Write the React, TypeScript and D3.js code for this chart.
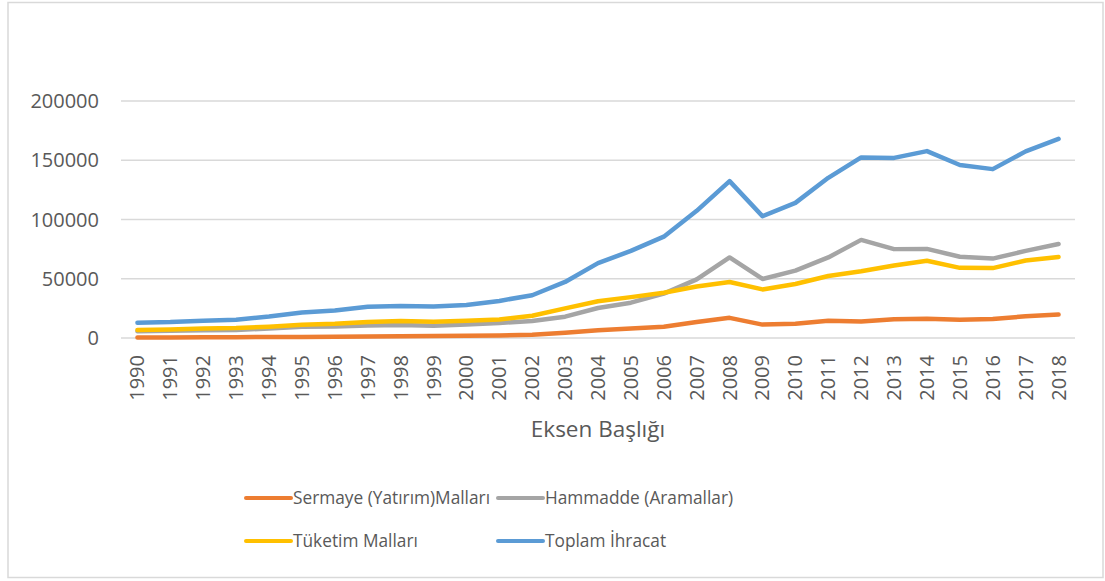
import React, { useEffect, useRef } from 'react';
import * as d3 from 'd3';

const years = d3.range(1990, 2019).map(String);

const sermaye = [400, 500, 600, 700, 800, 900, 1000, 1200, 1400, 1600, 1900, 2200, 2800, 4500, 6500, 8000, 9500, 13500, 17000, 11300, 12000, 14500, 14000, 15800, 16200, 15500, 16000, 18300, 19800];
const hammadde = [5800, 6100, 6500, 6800, 8000, 9500, 9800, 10500, 11000, 10400, 11300, 12700, 14300, 18000, 25300, 29800, 37500, 49500, 68000, 49800, 56800, 68000, 82800, 75000, 75200, 68600, 67000, 73500, 79300];
const tuketim = [6800, 7200, 8000, 8400, 9500, 11200, 12000, 13500, 14300, 13800, 14500, 15700, 18800, 25000, 31000, 34500, 38200, 43500, 47300, 41000, 45600, 52300, 56300, 61200, 65200, 59200, 59000, 65400, 68400];
const toplam = [12900, 13400, 14600, 15400, 18100, 21600, 23200, 26300, 27000, 26600, 27800, 31300, 36100, 47300, 63200, 73500, 85500, 107300, 132400, 102800, 114000, 135200, 152400, 152000, 157700, 146000, 142500, 157500, 168000];

const yTicks = [0, 50000, 100000, 150000, 200000];

const series = [
  { name: 'Sermaye (Yatırım)Malları', values: sermaye, color: '#ed7d31' },
  { name: 'Hammadde (Aramallar)', values: hammadde, color: '#a5a5a5' },
  { name: 'Tüketim Malları', values: tuketim, color: '#ffc000' },
  { name: 'Toplam İhracat', values: toplam, color: '#5b9bd5' },
];

const App = () => {
  const svgRef = useRef<SVGSVGElement>(null);

  useEffect(() => {
    const svg = d3.select(svgRef.current);
    svg.selectAll('*').remove();

    const font = '"Open Sans", sans-serif';
    const textColor = '#595959';

    // chart frame
    svg.append('rect')
      .attr('x', 8).attr('y', 2.5)
      .attr('width', 1095).attr('height', 575)
      .attr('fill', '#fff')
      .attr('stroke', '#d9d9d9')
      .attr('stroke-width', 1.5);

    const left = 121, right = 1075, top = 101, bottom = 338;

    const x = d3.scaleBand().domain(years).range([left, right]);
    const y = d3.scaleLinear().domain([0, 200000]).range([bottom, top]);

    // gridlines
    svg.append('g').selectAll('line')
      .data(yTicks)
      .enter()
      .append('line')
      .attr('x1', left).attr('x2', right)
      .attr('y1', d => y(d)).attr('y2', d => y(d))
      .attr('stroke', '#d9d9d9')
      .attr('stroke-width', 1.3);

    // y labels
    svg.append('g').selectAll('text')
      .data(yTicks)
      .enter()
      .append('text')
      .attr('x', 99)
      .attr('y', d => y(d))
      .attr('dy', '0.35em')
      .attr('text-anchor', 'end')
      .style('font-family', font)
      .style('font-size', '20px')
      .style('fill', textColor)
      .text(d => String(d));

    // x labels (rotated)
    svg.append('g').selectAll('text')
      .data(years)
      .enter()
      .append('text')
      .attr('transform', d => `translate(${x(d)! + x.bandwidth() / 2 + 7},355) rotate(-90)`)
      .attr('text-anchor', 'end')
      .style('font-family', font)
      .style('font-size', '20px')
      .style('fill', textColor)
      .text(d => d);

    // axis title
    svg.append('text')
      .attr('x', (left + right) / 2)
      .attr('y', 437)
      .attr('text-anchor', 'middle')
      .style('font-family', font)
      .style('font-size', '22.5px')
      .style('fill', textColor)
      .text('Eksen Başlığı');

    const line = d3.line<number>()
      .x((d, i) => x(years[i])! + x.bandwidth() / 2)
      .y(d => y(d));

    svg.append('g').selectAll('path')
      .data(series)
      .enter()
      .append('path')
      .attr('d', d => line(d.values))
      .attr('fill', 'none')
      .attr('stroke', d => d.color)
      .attr('stroke-width', 4.5)
      .attr('stroke-linecap', 'round')
      .attr('stroke-linejoin', 'round');

    // legend
    const legendPos = [
      { x: 246, y: 498 },
      { x: 498, y: 498 },
      { x: 246, y: 541 },
      { x: 498, y: 541 },
    ];
    const lg = svg.append('g').selectAll('g')
      .data(series)
      .enter()
      .append('g')
      .attr('transform', (d, i) => `translate(${legendPos[i].x},${legendPos[i].y})`);
    lg.append('line')
      .attr('x1', 0).attr('x2', 45)
      .attr('stroke', d => d.color)
      .attr('stroke-width', 4)
      .attr('stroke-linecap', 'round');
    lg.append('text')
      .attr('x', 47)
      .attr('dy', '0.35em')
      .style('font-family', font)
      .style('font-size', '17.3px')
      .style('fill', textColor)
      .text(d => d.name);
  }, []);

  return (
    <svg
      ref={svgRef}
      width={1105}
      height={581}
      style={{ position: 'absolute', left: 0, top: 0, background: '#fff' }}
    />
  );
};

export default App;
